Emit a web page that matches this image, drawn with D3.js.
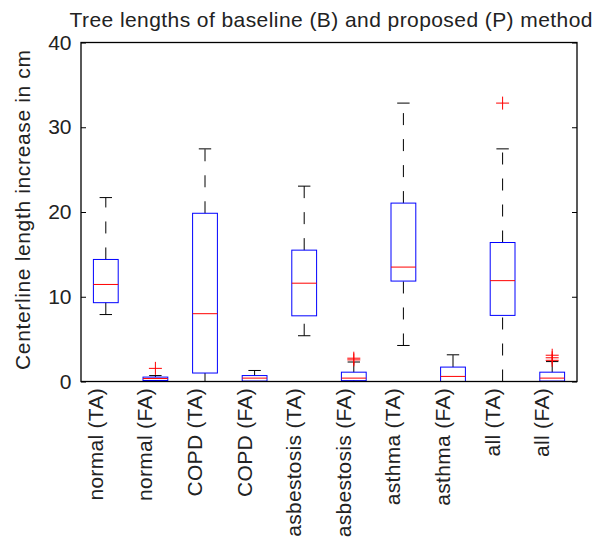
<!DOCTYPE html>
<html>
<head>
<meta charset="utf-8">
<script src="https://cdn.jsdelivr.net/npm/d3@7.9.0/dist/d3.min.js"></script>
<style>
  html, body { margin: 0; padding: 0; background: #fff; }
  svg { display: block; font-family: "Liberation Sans", Arial, Helvetica, sans-serif; }
</style>
</head>
<body>
<svg id="chart" width="597" height="539"></svg>
<script>
// categories (one box per group)
var categories = ['normal (TA)', 'normal (FA)', 'COPD (TA)', 'COPD (FA)', 'asbestosis (TA)',
    'asbestosis (FA)', 'asthma (TA)', 'asthma (FA)', 'all (TA)', 'all (FA)']

// box statistics (cm)
var whiskerLow = [7.9, 0.0, 0.0, 0.0, 5.4, 0.0, 4.25, 0.0, 0.0, 0.0]
var q1 = [9.3, 0.12, 1.0, 0.05, 7.75, 0.1, 11.85, 0.0, 7.8, 0.05]
var median = [11.45, 0.35, 8.0, 0.4, 11.6, 0.4, 13.5, 0.6, 11.9, 0.4]
var q3 = [14.4, 0.52, 19.85, 0.7, 15.5, 1.1, 21.05, 1.7, 16.4, 1.1]
var whiskerHigh = [21.7, 0.7, 27.45, 1.3, 23.05, 2.3, 32.85, 3.15, 27.45, 2.35]
var outliers = [[], [1.55], [], [], [], [2.55, 2.75], [], [], [32.85], [2.5, 2.8, 3.1]]

var yTicks = [0, 10, 20, 30, 40]

;(function () {
    var svg = d3.select('#chart')
    var left = 81, right = 577, top = 42.5, bottom = 381.5

    var x = d3.scalePoint().domain(categories).range([left, right]).padding(0.5)
    var y = d3.scaleLinear().domain([0, 40]).range([bottom, top])
    var boxW = x.step() * 0.5

    var boxes = categories.map(function (c, i) {
        return { cat: c, lo: whiskerLow[i], q1: q1[i], med: median[i], q3: q3[i], hi: whiskerHigh[i], out: outliers[i] }
    })

    var g = svg.append('g')

    // whiskers (dashed, MATLAB style)
    var wg = g.selectAll('g.box').data(boxes).enter().append('g').attr('class', 'box')
    wg.append('line')
        .attr('x1', function (d) { return x(d.cat) }).attr('x2', function (d) { return x(d.cat) })
        .attr('y1', function (d) { return y(d.q3) }).attr('y2', function (d) { return y(d.hi) })
        .attr('stroke', '#000').attr('stroke-width', 1).attr('stroke-dasharray', '12,14')
    wg.append('line')
        .attr('x1', function (d) { return x(d.cat) }).attr('x2', function (d) { return x(d.cat) })
        .attr('y1', function (d) { return y(d.lo) }).attr('y2', function (d) { return y(d.q1) })
        .attr('stroke', '#000').attr('stroke-width', 1).attr('stroke-dasharray', '12,14')
    // caps
    ;['hi', 'lo'].forEach(function (k) {
        wg.append('line')
            .attr('x1', function (d) { return x(d.cat) - boxW / 4 }).attr('x2', function (d) { return x(d.cat) + boxW / 4 })
            .attr('y1', function (d) { return y(d[k]) }).attr('y2', function (d) { return y(d[k]) })
            .attr('stroke', '#000').attr('stroke-width', 1)
    })
    // box
    wg.append('rect')
        .attr('x', function (d) { return x(d.cat) - boxW / 2 })
        .attr('y', function (d) { return y(d.q3) })
        .attr('width', boxW)
        .attr('height', function (d) { return y(d.q1) - y(d.q3) })
        .attr('fill', 'none').attr('stroke', '#0000ff').attr('stroke-width', 1)
    // median
    wg.append('line')
        .attr('x1', function (d) { return x(d.cat) - boxW / 2 }).attr('x2', function (d) { return x(d.cat) + boxW / 2 })
        .attr('y1', function (d) { return y(d.med) }).attr('y2', function (d) { return y(d.med) })
        .attr('stroke', '#ff0000').attr('stroke-width', 1)
    // outliers
    wg.each(function (d) {
        var sel = d3.select(this)
        d.out.forEach(function (v) {
            sel.append('path')
                .attr('d', 'M' + (x(d.cat) - 6.5) + ',' + y(v) + 'h13M' + x(d.cat) + ',' + (y(v) - 6.5) + 'v13')
                .attr('stroke', '#ff0000').attr('stroke-width', 1).attr('fill', 'none')
        })
    })

    // frame
    g.append('rect').attr('x', left).attr('y', top).attr('width', right - left).attr('height', bottom - top)
        .attr('fill', 'none').attr('stroke', '#000').attr('stroke-width', 1.3)

    // y axis ticks (left, inward) + mirrored ticks on right
    var ya = g.append('g').attr('transform', 'translate(' + left + ',0)')
        .call(d3.axisLeft(y).tickValues(yTicks).tickSizeInner(-5).tickSizeOuter(0).tickPadding(9.5))
    ya.select('.domain').remove()
    ya.selectAll('text').attr('font-size', 21).attr('fill', '#222')
        .attr('font-family', '"Liberation Sans", Arial, sans-serif')
    var yr = g.append('g').attr('transform', 'translate(' + right + ',0)')
        .call(d3.axisRight(y).tickValues(yTicks).tickSizeInner(-5).tickSizeOuter(0).tickFormat(''))
    yr.select('.domain').remove()

    // x tick labels, rotated
    g.selectAll('text.xlab').data(categories).enter().append('text')
        .attr('class', 'xlab')
        .attr('transform', function (d) { return 'translate(' + (x(d) - 3) + ',388) rotate(-90)' })
        .attr('text-anchor', 'end')
        .attr('font-size', 21)
        .attr('letter-spacing', 0.3)
        .attr('fill', '#222')
        .text(function (d) { return d })

    // title
    svg.append('text').attr('x', 331).attr('y', 27).attr('text-anchor', 'middle')
        .attr('font-size', 21).attr('textLength', 523).attr('lengthAdjust', 'spacing')
        .attr('fill', '#222')
        .text('Tree lengths of baseline (B) and proposed (P) method')

    // y label
    svg.append('text').attr('transform', 'translate(30,210) rotate(-90)').attr('text-anchor', 'middle')
        .attr('font-size', 21).attr('textLength', 320).attr('lengthAdjust', 'spacing')
        .attr('fill', '#222')
        .text('Centerline length increase in cm')
})()
</script>
</body>
</html>
